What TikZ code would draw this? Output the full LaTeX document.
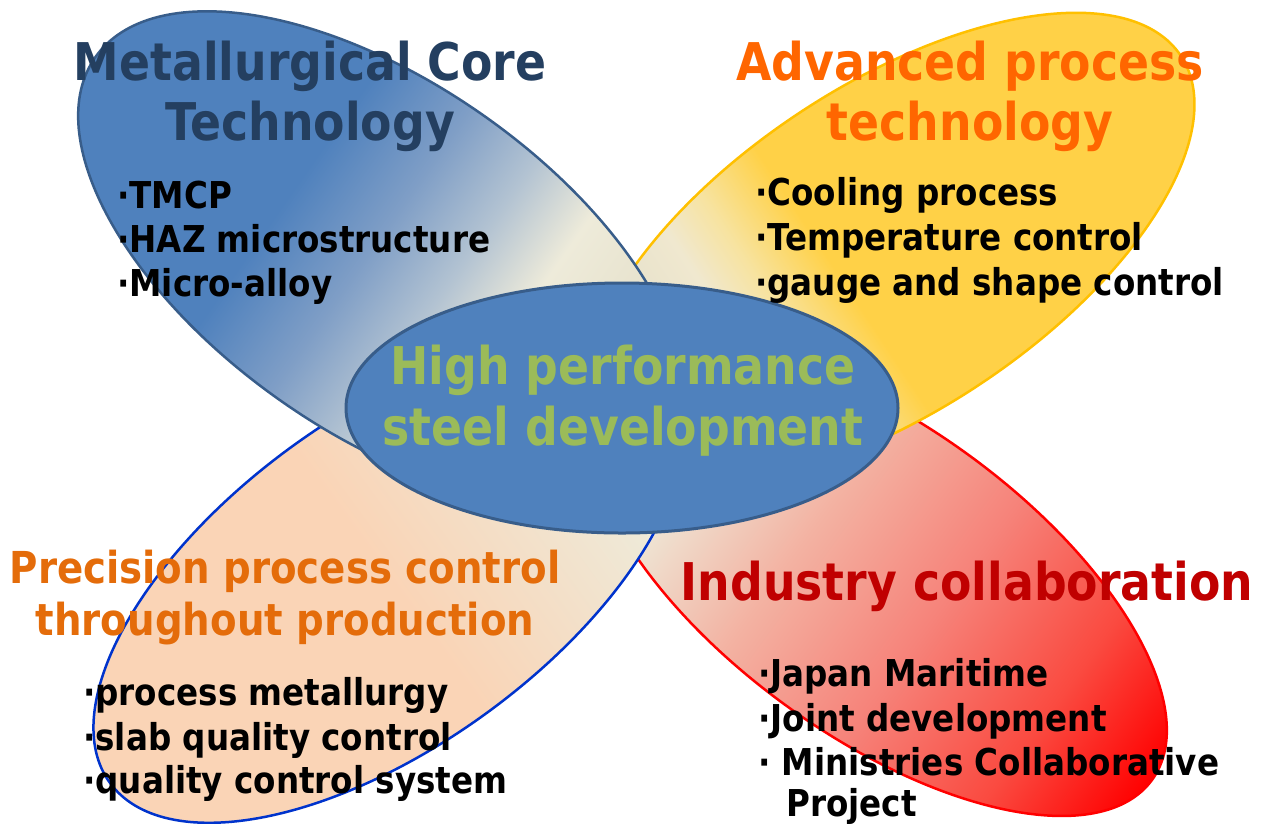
\documentclass[tikz,border=0pt]{standalone}
\usepackage{fontspec}
\setmainfont{DejaVu Sans}[FakeStretch=0.88]
\usetikzlibrary{shapes.geometric}

% palette
\definecolor{petalblue}{HTML}{4F81BD}
\definecolor{bluemid}{HTML}{7F9EC6}
\definecolor{bluegrey}{HTML}{B3C3D2}
\definecolor{creamA}{HTML}{EEEBDA}
\definecolor{creamB}{HTML}{E6E1CB}
\definecolor{creamC}{HTML}{DAD5BC}
\definecolor{creamD}{HTML}{F0E8CF}
\definecolor{gold}{HTML}{FFD147}
\definecolor{paleyellow}{HTML}{F7E3A0}
\definecolor{peach}{HTML}{FAD4B6}
\definecolor{peachpale}{HTML}{F4DEC6}
\definecolor{salmon}{HTML}{F3B2A2}
\definecolor{coral}{HTML}{F6837A}
\definecolor{redhot}{HTML}{FA4A40}
\definecolor{pureRed}{HTML}{FF0000}
\definecolor{edgeblue}{HTML}{385D8A}
\definecolor{edgegold}{HTML}{FFC000}
\definecolor{edgeroyal}{HTML}{0033CC}
\definecolor{navy}{HTML}{243F60}
\definecolor{brightorange}{HTML}{FF6600}
\definecolor{burntorange}{HTML}{E46C0A}
\definecolor{darkred}{HTML}{C00000}
\definecolor{olivegreen}{HTML}{9BBB59}

% gradients along each petal's long axis (25bp = left end, 75bp = right end)
\pgfdeclarehorizontalshading{bluepetal}{100bp}{color(0bp)=(petalblue); color(25bp)=(petalblue);
  color(42bp)=(petalblue); color(49bp)=(bluemid); color(55bp)=(bluegrey); color(60.5bp)=(creamA);
  color(67.5bp)=(creamB); color(75bp)=(creamC); color(100bp)=(creamC)}
\pgfdeclarehorizontalshading{goldpetal}{100bp}{color(0bp)=(creamC); color(25bp)=(creamC);
  color(32.5bp)=(creamB); color(37.5bp)=(creamD); color(41bp)=(paleyellow); color(46bp)=(gold);
  color(75bp)=(gold); color(100bp)=(gold)}
\pgfdeclarehorizontalshading{peachpetal}{100bp}{color(0bp)=(creamC); color(25bp)=(creamC);
  color(32bp)=(creamA); color(42bp)=(peachpale); color(50bp)=(peach); color(75bp)=(peach);
  color(100bp)=(peach)}
\pgfdeclarehorizontalshading{redpetal}{100bp}{color(0bp)=(creamC); color(25bp)=(creamC);
  color(33bp)=(creamA); color(44bp)=(salmon); color(55bp)=(coral); color(66bp)=(redhot);
  color(75bp)=(pureRed); color(100bp)=(pureRed)}

% one petal: centre x, centre y, rotation, long radius, short radius, shading, outline
\newcommand\drawpetal[7]{%
  \begin{scope}[transform canvas={shift={(#1,#2)},rotate=#3}]
    \shade[shading=#6, draw=#7, petaledge] (0,0) ellipse [x radius=#4pt, y radius=#5pt];
  \end{scope}}

\tikzset{
  petaledge/.style={line width=2.5pt},
  title/.style={font=\fontsize{52}{60}\selectfont\bfseries, anchor=base, inner sep=0pt},
  item/.style={font=\fontsize{37}{44}\selectfont\bfseries, anchor=base west, inner sep=0pt, text=black},
}

\begin{document}
\begin{tikzpicture}[x=1pt, y=-1pt]
  \useasboundingbox (0,0) rectangle (1266,823);

  % petals, back to front
  \drawpetal{877}{580}{-36}{340}{155}{redpetal}{pureRed}
  \drawpetal{889}{249}{33.5}{350}{163}{goldpetal}{edgegold}
  \drawpetal{389}{580}{216}{345}{165}{peachpetal}{edgeroyal}
  \drawpetal{382}{258}{-35}{350}{175}{bluepetal}{edgeblue}

  % centre
  \node[ellipse, draw=edgeblue, line width=3pt, fill=petalblue,
        minimum width=552pt, minimum height=250pt, inner sep=0pt] (hub) at (622,408) {};
  \node[title, text=olivegreen] (hubA) at (623,384) {High performance};
  \node[title, text=olivegreen] (hubB) at (623,445) {steel development};

  % upper left
  \node[title, text=navy] (coreA) at (310,80) {Metallurgical Core};
  \node[title, text=navy] (coreB) at (310,140) {Technology};
  \node[item] (core1) at (117,208) {·TMCP};
  \node[item] (core2) at (117,252) {·HAZ microstructure};
  \node[item] (core3) at (117,296) {·Micro-alloy};

  % upper right
  \node[title, text=brightorange] (advA) at (970,80) {Advanced process};
  \node[title, text=brightorange] (advB) at (970,140) {technology};
  \node[item] (adv1) at (755,205) {·Cooling process};
  \node[item] (adv2) at (755,250) {·Temperature control};
  \node[item] (adv3) at (755,295) {·gauge and shape control};

  % lower left
  \node[title, font=\fontsize{44}{52}\selectfont\bfseries, text=burntorange] (preA) at (285,583) {Precision process control};
  \node[title, font=\fontsize{44}{52}\selectfont\bfseries, text=burntorange] (preB) at (285,635) {throughout production};
  \node[item] (pre1) at (83,705) {·process metallurgy};
  \node[item] (pre2) at (83,750) {·slab quality control};
  \node[item] (pre3) at (83,793) {·quality control system};

  % lower right
  \node[title, text=darkred] (indA) at (967,600) {Industry collaboration};
  \node[item] (ind1) at (758,686) {·Japan Maritime};
  \node[item] (ind2) at (758,731) {·Joint development};
  \node[item] (ind3) at (758,775) {·\ Ministries Collaborative};
  \node[item] (ind4) at (786,816) {Project};
\end{tikzpicture}
\end{document}
